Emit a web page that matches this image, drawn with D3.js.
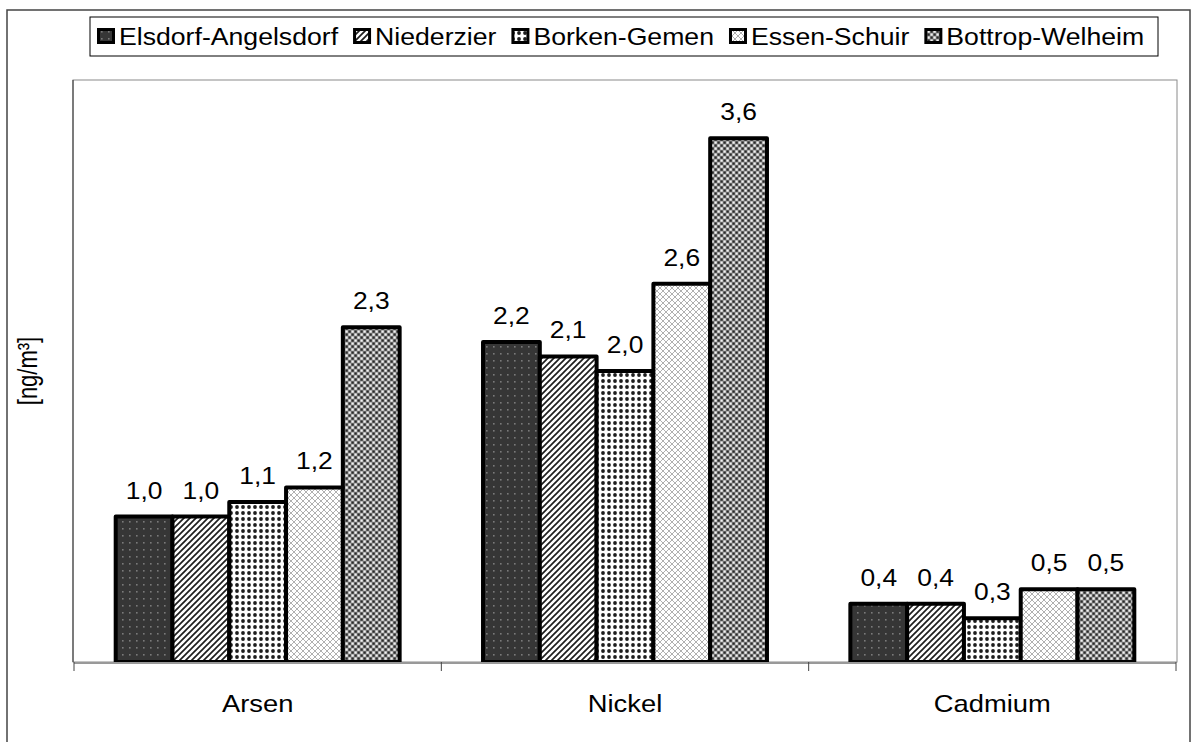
<!DOCTYPE html>
<html>
<head>
<meta charset="utf-8">
<script src="https://cdn.jsdelivr.net/npm/d3@7"></script>
<style>
  html, body { margin: 0; padding: 0; background: #fff; }
  svg { display: block; }
  text { font-family: "Liberation Sans", Arial, sans-serif; fill: #000; }
</style>
</head>
<body>
<svg id="chart" width="1195" height="742"></svg>
<script>
// Metals in particulate matter, annual means per station [ng/m³]
const categories = ["Arsen", "Nickel", "Cadmium"];
const stations = ["Elsdorf-Angelsdorf", "Niederzier", "Borken-Gemen", "Essen-Schuir", "Bottrop-Welheim"];
const elsdorf  = [1.0, 2.2, 0.4];
const niederz  = [1.0, 2.1, 0.4];
const borken   = [1.1, 2.0, 0.3];
const essen    = [1.2, 2.6, 0.5];
const bottrop  = [2.3, 3.6, 0.5];
const seriesValues = [elsdorf, niederz, borken, essen, bottrop];
const yAxisTitle = "[ng/m³]";
const yMax = 4;

const svg = d3.select("#chart");
const SX = 1.1;            // horizontal text stretch
const FONT = 24;

// ---------- fill patterns ----------
const defs = svg.append("defs");
function pat(id, w, h, draw) {
  const p = defs.append("pattern").attr("id", id)
    .attr("patternUnits", "userSpaceOnUse").attr("width", w).attr("height", h);
  draw(p);
}
pat("p0", 7, 7, p => {
  p.append("rect").attr("width", 7).attr("height", 7).attr("fill", "#363636");
  p.append("rect").attr("x", 3).attr("y", 3).attr("width", 1.6).attr("height", 1.6).attr("fill", "#7a7a7a");
});
pat("p1", 6, 6, p => {
  p.append("rect").attr("width", 6).attr("height", 6).attr("fill", "#fff");
  p.append("path").attr("d", "M-1,7 L7,-1 M-1,1 L1,-1 M5,7 L7,5")
    .attr("stroke", "#1e1e1e").attr("stroke-width", 1.7);
});
pat("p2", 6, 6, p => {
  p.append("rect").attr("width", 6).attr("height", 6).attr("fill", "#fff");
  p.append("circle").attr("cx", 3).attr("cy", 3).attr("r", 1.9).attr("fill", "#1e1e1e");
});
pat("p3", 6, 6, p => {
  p.append("rect").attr("width", 6).attr("height", 6).attr("fill", "#fff");
  p.append("path").attr("d", "M0,0 L6,6 M6,0 L0,6")
    .attr("stroke", "#b0b0b0").attr("stroke-width", 1);
});
pat("p4", 6, 6, p => {
  p.append("rect").attr("width", 6).attr("height", 6).attr("fill", "#8a8a8a");
  p.append("rect").attr("x", 0.5).attr("y", 0.5).attr("width", 2.2).attr("height", 2.2).attr("fill", "#2a2a2a");
  p.append("rect").attr("x", 3.5).attr("y", 3.5).attr("width", 2.2).attr("height", 2.2).attr("fill", "#2a2a2a");
  p.append("rect").attr("x", 3.5).attr("y", 0.5).attr("width", 2.2).attr("height", 2.2).attr("fill", "#f2f2f2");
  p.append("rect").attr("x", 0.5).attr("y", 3.5).attr("width", 2.2).attr("height", 2.2).attr("fill", "#f2f2f2");
});
const fills = ["url(#p0)", "url(#p1)", "url(#p2)", "url(#p3)", "url(#p4)"];

function label(g, txt, x, y, opts = {}) {
  return g.append("text")
    .attr("transform", `translate(${x},${y}) scale(${opts.sx || SX},1)` + (opts.rotate ? ` rotate(${opts.rotate})` : ""))
    .attr("text-anchor", opts.anchor || "middle")
    .attr("font-size", opts.size || FONT)
    .text(txt);
}

// ---------- outer frame ----------
svg.append("rect").attr("x", 7).attr("y", 10).attr("width", 1183).attr("height", 745)
  .attr("fill", "none").attr("stroke", "#444").attr("stroke-width", 1.5);

// ---------- plot area ----------
const plot = { left: 74, right: 1176, top: 80, bottom: 662 };
svg.append("rect").attr("x", plot.left - 1).attr("y", plot.top)
  .attr("width", plot.right - plot.left + 2).attr("height", plot.bottom - plot.top)
  .attr("fill", "none").attr("stroke", "#8a8a8a").attr("stroke-width", 1);

const x0 = d3.scaleBand().domain(categories).range([plot.left, plot.right]).padding(0);
const groupFrac = 0.773;
const x1 = d3.scaleBand().domain(d3.range(stations.length))
  .range([0, x0.bandwidth() * groupFrac]).padding(0);
const groupOffset = x0.bandwidth() * (1 - groupFrac) / 2;
const y = d3.scaleLinear().domain([0, yMax]).range([plot.bottom, plot.top]);

// value axis line
svg.append("line").attr("x1", plot.left - 1).attr("x2", plot.left - 1)
  .attr("y1", plot.top).attr("y2", plot.bottom).attr("stroke", "#333").attr("stroke-width", 1);

// ---------- bars ----------
const barsG = svg.append("g");
const labelsG = svg.append("g");
categories.forEach((c, ci) => {
  seriesValues.forEach((vals, si) => {
    const v = vals[ci];
    const bx = x0(c) + groupOffset + x1(si);
    barsG.append("rect")
      .attr("x", bx).attr("y", y(v))
      .attr("width", x1.bandwidth()).attr("height", y(0) - y(v))
      .attr("fill", fills[si]).attr("stroke", "#000").attr("stroke-width", 4)
      .attr("stroke-linejoin", "round");
    label(labelsG, d3.format(".1f")(v).replace(".", ","), bx + x1.bandwidth() / 2, y(v) - 18);
  });
});

// ---------- category axis ----------
svg.append("line").attr("x1", plot.left).attr("x2", plot.right)
  .attr("y1", plot.bottom + 1).attr("y2", plot.bottom + 1)
  .attr("stroke", "#999").attr("stroke-width", 2);
const tickXs = categories.map(c => x0(c)).concat([x0.range()[1]]);
svg.append("g").selectAll("line").data(tickXs).join("line")
  .attr("x1", d => d).attr("x2", d => d)
  .attr("y1", plot.bottom).attr("y2", plot.bottom + 9)
  .attr("stroke", "#444").attr("stroke-width", 1);
const axG = svg.append("g");
categories.forEach(c => label(axG, c, x0(c) + x0.bandwidth() / 2, 712, { sx: 1.14 }));

// ---------- value axis title ----------
label(svg, yAxisTitle, 37, 371, { rotate: -90, size: 22, sx: 1.25 });

// ---------- legend ----------
const leg = svg.append("g");
leg.append("rect").attr("x", 90).attr("y", 17).attr("width", 1068).attr("height", 39)
  .attr("fill", "#fff").attr("stroke", "#000").attr("stroke-width", 1);
const legSX = 1.11;
let lx = 97;
const mW = 18, mH = 16, mY = 28;
stations.forEach((s, i) => {
  leg.append("rect").attr("x", lx + 1.5).attr("y", mY + 1.5).attr("width", mW - 3).attr("height", mH - 3)
    .attr("fill", fills[i]).attr("stroke", "#000").attr("stroke-width", 3);
  lx += mW + 4;
  const t = label(leg, s, lx, 45, { anchor: "start", sx: legSX });
  lx += t.node().getComputedTextLength() * legSX + 15;
});
</script>
</body>
</html>
